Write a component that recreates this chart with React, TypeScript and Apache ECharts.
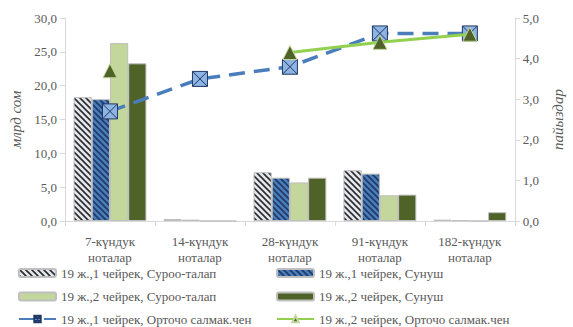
import React, { useEffect, useRef } from "react";
import * as echarts from "echarts";

const categories = [
  "7-күндук\nноталар",
  "14-күндук\nноталар",
  "28-күндук\nноталар",
  "91-күндук\nноталар",
  "182-күндук\nноталар",
];
const seriesNames = [
  "19 ж.,1 чейрек, Суроо-талап",
  "19 ж.,1 чейрек, Сунуш",
  "19 ж.,2 чейрек, Суроо-талап",
  "19 ж.,2 чейрек, Сунуш",
  "19 ж.,1 чейрек, Орточо салмак.чен",
  "19 ж.,2 чейрек, Орточо салмак.чен",
];
const q1Demand = [18.3, 0.3, 7.2, 7.5, 0.2];
const q1Supply = [18.0, 0.2, 6.4, 7.0, 0.1];
const q2Demand = [26.3, 0, 5.7, 3.8, 0];
const q2Supply = [23.3, 0, 6.4, 3.9, 1.3];
const q1Rate = [2.7, 3.5, 3.8, 4.62, 4.62];
const q2Rate = [3.7, null, 4.15, 4.4, 4.6];

const FONT = "'Liberation Serif', 'Times New Roman', serif";
const GREY = "#595959";
const AXIS = "#d9d9d9";

function stripeTile(bg: string, fg: string): HTMLCanvasElement {
  const c = document.createElement("canvas");
  const s = 6;
  c.width = s;
  c.height = s;
  const ctx = c.getContext("2d")!;
  ctx.fillStyle = bg;
  ctx.fillRect(0, 0, s, s);
  ctx.strokeStyle = fg;
  ctx.lineWidth = 1.6;
  ctx.beginPath();
  ctx.moveTo(-1, -1);
  ctx.lineTo(s + 1, s + 1);
  ctx.moveTo(-1, s - 1);
  ctx.lineTo(1, s + 1);
  ctx.moveTo(s - 1, -1);
  ctx.lineTo(s + 1, 1);
  ctx.stroke();
  return c;
}

const fmt = (v: number) => v.toFixed(1).replace(".", ",");

export default function App() {
  const ref = useRef<HTMLDivElement>(null);
  useEffect(() => {
    const chart = echarts.init(ref.current!, null, { renderer: "svg" });
    const pat1 = { image: stripeTile("#e4e7ee", "#2b2b2b"), repeat: "repeat" };
    const pat2 = { image: stripeTile("#4a7ebb", "#1f3864"), repeat: "repeat" };
    const barCommon = {
      type: "bar",
      yAxisIndex: 0,
      barGap: "0%",
      barCategoryGap: "19%",
    };
    const legendPos = [
      [18, 265.5],
      [276, 265.5],
      [18, 289],
      [276, 289],
      [18, 311.5],
      [276, 311.5],
    ];
    const legends = seriesNames.map((n, i) => ({
      orient: "horizontal",
      left: legendPos[i][0],
      top: legendPos[i][1],
      padding: 0,
      itemWidth: 37,
      itemHeight: 8,
      itemGap: 5,
      textStyle: { fontFamily: FONT, fontSize: 13, color: GREY, lineHeight: 15 },
      data: [n],
    }));
    const option: any = {
      animation: false,
      textStyle: { fontFamily: FONT },
      grid: { left: 64, right: 50, top: 18, bottom: 106 },
      legend: legends,
      xAxis: {
        type: "category",
        data: categories,
        axisLine: { lineStyle: { color: AXIS, width: 1 } },
        axisTick: { show: true, length: 5, lineStyle: { color: AXIS } },
        axisLabel: {
          color: GREY,
          fontFamily: FONT,
          fontSize: 13,
          lineHeight: 16,
          margin: 12,
          interval: 0,
        },
      },
      yAxis: [
        {
          type: "value",
          min: 0,
          max: 30,
          interval: 5,
          name: "млрд сом",
          nameLocation: "middle",
          nameGap: 42,
          nameTextStyle: { fontFamily: FONT, fontSize: 15, fontStyle: "italic", color: GREY },
          axisLine: { show: true, lineStyle: { color: AXIS } },
          axisTick: { show: true, length: 5, lineStyle: { color: AXIS } },
          splitLine: { show: false },
          axisLabel: { color: GREY, fontFamily: FONT, fontSize: 13, formatter: fmt, margin: 8 },
        },
        {
          type: "value",
          min: 0,
          max: 5,
          interval: 1,
          position: "right",
          name: "пайыздар",
          nameLocation: "middle",
          nameGap: 30,
          nameRotate: 90,
          nameTextStyle: { fontFamily: FONT, fontSize: 15, fontStyle: "italic", color: GREY },
          axisLine: { show: true, lineStyle: { color: AXIS } },
          axisTick: { show: true, length: 5, lineStyle: { color: AXIS } },
          splitLine: { show: false },
          axisLabel: { color: GREY, fontFamily: FONT, fontSize: 13, formatter: fmt, margin: 8 },
        },
      ],
      series: [
        {
          ...barCommon,
          name: seriesNames[0],
          data: q1Demand,
          itemStyle: { color: pat1, borderColor: "#bfbfbf", borderWidth: 1 },
        },
        {
          ...barCommon,
          name: seriesNames[1],
          data: q1Supply,
          itemStyle: { color: pat2, borderColor: "#bfbfbf", borderWidth: 1 },
        },
        {
          ...barCommon,
          name: seriesNames[2],
          data: q2Demand,
          itemStyle: { color: "#c3d69b", borderColor: "#bfbfbf", borderWidth: 1 },
        },
        {
          ...barCommon,
          name: seriesNames[3],
          data: q2Supply,
          itemStyle: { color: "#4f6228", borderColor: "#bfbfbf", borderWidth: 1 },
        },
        {
          type: "line",
          name: seriesNames[4],
          yAxisIndex: 1,
          data: q1Rate,
          symbol: "path://M0,0H10V10H0Z M0,0L10,10 M10,0L0,10",
          symbolSize: 15,
          lineStyle: { color: "#4a7ebb", width: 3.5, type: [16, 9] },
          itemStyle: { color: "#8eb4e3", borderColor: "#1f3864", borderWidth: 1 },
          z: 5,
        },
        {
          type: "line",
          name: seriesNames[5],
          yAxisIndex: 1,
          data: q2Rate,
          symbol: "triangle",
          symbolSize: 14,
          lineStyle: { color: "#92d050", width: 3 },
          itemStyle: { color: "#4f6228", borderColor: "#c3d69b", borderWidth: 1 },
          z: 6,
        },
      ],
    };
    chart.setOption(option);
    return () => chart.dispose();
  }, []);
  return (
    <div
      ref={ref}
      style={{ position: "fixed", left: 0, top: 0, width: 573, height: 327, background: "#fff" }}
    />
  );
}
